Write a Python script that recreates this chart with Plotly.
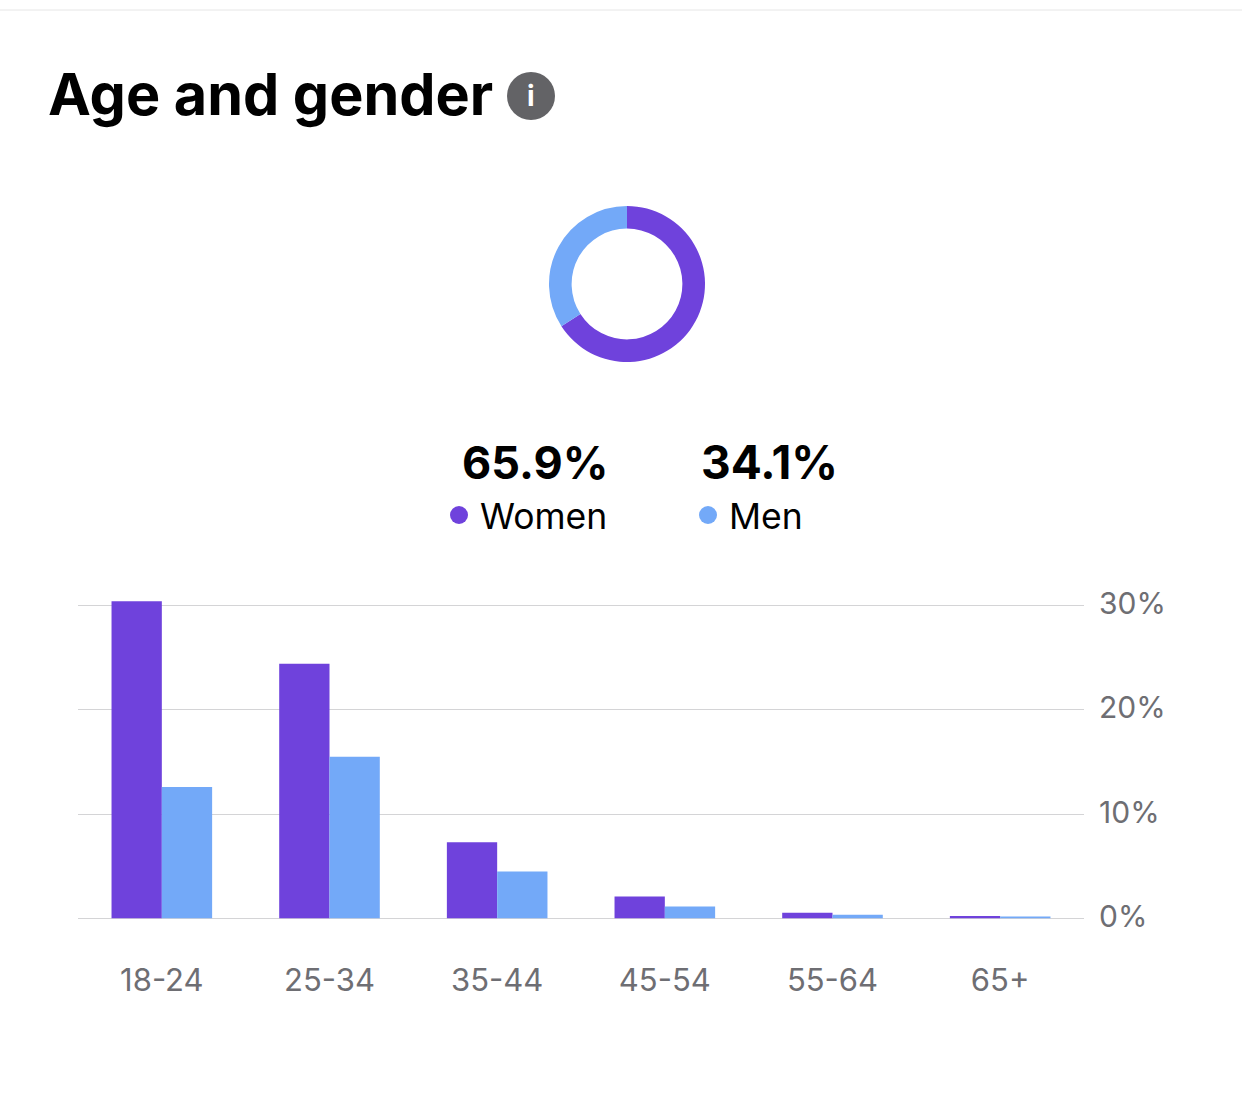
import plotly.graph_objects as go

W = 1242
H = 1095

genders = ["Women", "Men"]
gender_share = [65.9, 34.1]
gender_labels = ["65.9%", "34.1%"]

age_groups = ["18-24", "25-34", "35-44", "45-54", "55-64", "65+"]
women = [30.4, 24.4, 7.3, 2.1, 0.55, 0.25]
men = [12.6, 15.5, 4.5, 1.15, 0.35, 0.15]
y_ticks = [0, 10, 20, 30]
y_ticklabels = ["0%", "10%", "20%", "30%"]

PURPLE = "#6f42dc"
BLUE = "#73a9f8"
GREY = "#6e6e73"
FONT = "Inter"


# page pixels to paper coordinates
def px(x):
    return x / W


def py(y):
    return 1 - y / H


fig = go.Figure()

fig.add_trace(go.Pie(labels=genders, values=gender_share, hole=0.71, sort=False,
                     direction="clockwise", rotation=0, textinfo="none",
                     marker=dict(colors=[PURPLE, BLUE], line=dict(width=0)),
                     domain=dict(x=[px(549), px(705)], y=[py(362), py(206)]),
                     showlegend=False))

fig.add_trace(go.Bar(x=age_groups, y=women, name="Women", marker=dict(color=PURPLE, line=dict(width=0)), showlegend=False))
fig.add_trace(go.Bar(x=age_groups, y=men, name="Men", marker=dict(color=BLUE, line=dict(width=0)), showlegend=False))

fig.update_layout(
    width=W, height=H,
    margin=dict(l=0, r=0, t=0, b=0),
    paper_bgcolor="white", plot_bgcolor="white",
    font=dict(family=FONT, color=GREY),
    barmode="group", bargap=0.4, bargroupgap=0,
    xaxis=dict(domain=[px(78), px(1084)], anchor="y", showgrid=False, zeroline=False, showline=False, automargin=False,
               ticks="", tickfont=dict(size=31, color=GREY), ticklabelstandoff=40),
    yaxis=dict(domain=[py(918.5), py(584.5)], range=[0, 32], side="right", anchor="x", automargin=False,
               tickvals=y_ticks, ticktext=y_ticklabels, showgrid=True, gridcolor="#d4d4d6", gridwidth=1,
               zeroline=True, zerolinecolor="#d4d4d6", zerolinewidth=1, showline=False,
               ticks="", tickfont=dict(size=30, color=GREY), ticklabelstandoff=14, ticklabelshift=-2),
)

# top hairline, info badge and legend dots
fig.add_shape(type="line", xref="paper", yref="paper", x0=0, x1=1, y0=py(10), y1=py(10),
              line=dict(color="#e6e6e6", width=1))
fig.add_shape(type="circle", xref="paper", yref="paper", x0=px(507), x1=px(555), y0=py(120), y1=py(72),
              fillcolor="#636366", line=dict(width=0))
fig.add_shape(type="circle", xref="paper", yref="paper", x0=px(450), x1=px(468), y0=py(524), y1=py(506),
              fillcolor=PURPLE, line=dict(width=0))
fig.add_shape(type="circle", xref="paper", yref="paper", x0=px(699), x1=px(717), y0=py(524), y1=py(506),
              fillcolor=BLUE, line=dict(width=0))


def label(text, x, y, size, color="#000000", anchor="left"):
    fig.add_annotation(text=text, xref="paper", yref="paper", x=px(x), y=py(y), showarrow=False,
                       xanchor=anchor, yanchor="middle", font=dict(family=FONT, size=size, color=color))


label("<b>Age and gender</b>", 46, 94, 57.5)
label("<b>i</b>", 531, 96, 28, color="white", anchor="center")
label("<b>" + gender_labels[0] + "</b>", 535, 462, 45, anchor="center")
label("<b>" + gender_labels[1] + "</b>", 769, 462, 46, anchor="center")
label(genders[0], 478, 516, 35.5)
label(genders[1], 727, 516, 35.5)

fig.write_html("out.html", config={"displayModeBar": False}, post_script="document.body.style.margin = '0';")
